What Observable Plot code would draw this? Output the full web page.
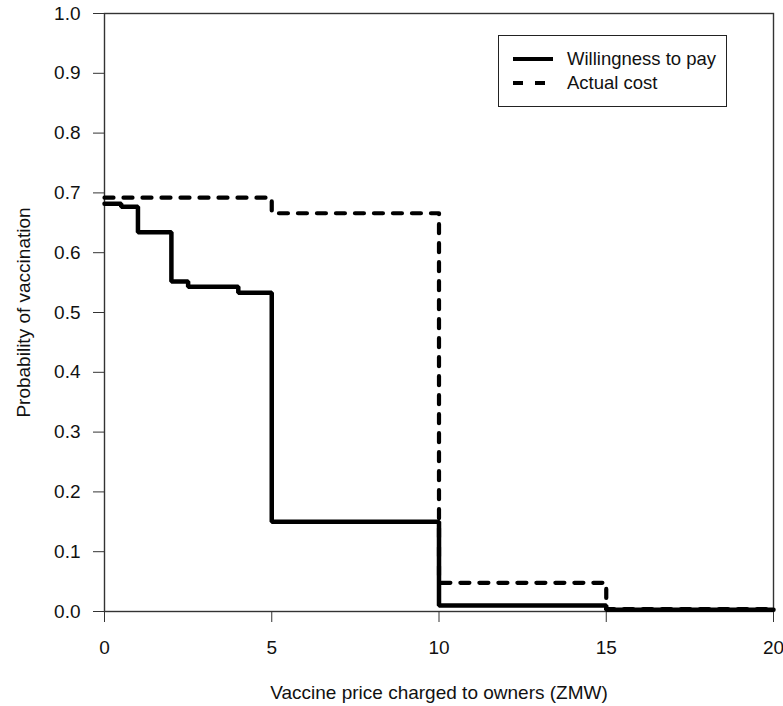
<!DOCTYPE html>
<html>
<head>
<meta charset="utf-8">
<script src="https://cdn.jsdelivr.net/npm/d3@7"></script>
<script src="https://cdn.jsdelivr.net/npm/@observablehq/plot@0.6"></script>
<style>
  html, body { margin: 0; padding: 0; background: #fff; }
  #wrap { position: relative; width: 783px; height: 706px; font-family: "Liberation Sans", Arial, sans-serif; }
  #wrap svg text { font-size: 19px !important; font-family: "Liberation Sans", Arial, sans-serif !important; font-variant-numeric: normal; }
  #legend { position: absolute; left: 498px; top: 35px; width: 229px; height: 72px; border: 1.5px solid #222; box-sizing: border-box; background: #fff; font-size: 18.5px; color: #111; }
  #legend .row { position: absolute; left: 14px; display: flex; align-items: center; }
  #legend .row span { margin-left: 14px; }
</style>
</head>
<body>
<div id="wrap"></div>
<script>
// Willingness to pay (step curve, step-after)
const wtpPrice = [0, 0.5, 1, 2, 2.5, 4, 5, 10, 15, 20];
const wtpProb  = [0.682, 0.677, 0.634, 0.552, 0.543, 0.533, 0.150, 0.010, 0.003, 0.003];
// Actual cost (step curve, step-after)
const costPrice = [0, 5, 10, 15, 20];
const costProb  = [0.692, 0.666, 0.048, 0.004, 0.004];

const xTicks = [0, 5, 10, 15, 20];
const yTicks = [0, 0.1, 0.2, 0.3, 0.4, 0.5, 0.6, 0.7, 0.8, 0.9, 1.0];

const seriesNames = ["Willingness to pay", "Actual cost"];

const wtp = wtpPrice.map((x, i) => ({x, y: wtpProb[i]}));
const cost = costPrice.map((x, i) => ({x, y: costProb[i]}));

const chart = Plot.plot({
  width: 783,
  height: 706,
  marginLeft: 104,
  marginRight: 10,
  marginTop: 13,
  marginBottom: 95,
  style: {fontFamily: '"Liberation Sans", Arial, sans-serif', fontSize: "19px", color: "#111", background: "#fff", overflow: "visible"},
  x: {domain: [0, 20]},
  y: {domain: [0, 1]},
  marks: [
    Plot.frame({stroke: "#333", strokeWidth: 1.4}),
    Plot.axisX({ticks: xTicks, tickSize: 11, tickPadding: 18, stroke: "#333", fontSize: 19, label: "Vaccine price charged to owners (ZMW)", labelArrow: "none", labelAnchor: "center", labelOffset: 87}),
    Plot.axisY({ticks: yTicks, tickFormat: d3.format(".1f"), tickSize: 11, tickPadding: 13, stroke: "#333", fontSize: 19, label: "Probability of vaccination", labelArrow: "none", labelAnchor: "center", labelOffset: 88}),
    Plot.line(cost, {x: "x", y: "y", curve: "step-after", stroke: "#000", strokeWidth: 4.2, strokeDasharray: "9,10"}),
    Plot.line(wtp, {x: "x", y: "y", curve: "step-after", stroke: "#000", strokeWidth: 4.5, strokeLinejoin: "miter"})
  ]
});
const wrap = document.getElementById("wrap");
wrap.appendChild(chart);

const legend = document.createElement("div");
legend.id = "legend";
const dashes = ["", "10,12"];
seriesNames.forEach((name, i) => {
  const row = document.createElement("div");
  row.className = "row";
  row.style.top = (i === 0 ? 12 : 36) + "px";
  row.innerHTML = `<svg width="40" height="10"><line x1="0" x2="40" y1="5" y2="5" stroke="#000" stroke-width="4.2" ${dashes[i] ? `stroke-dasharray="${dashes[i]}"` : ""}/></svg><span>${name}</span>`;
  legend.appendChild(row);
});
wrap.appendChild(legend);
</script>
</body>
</html>
